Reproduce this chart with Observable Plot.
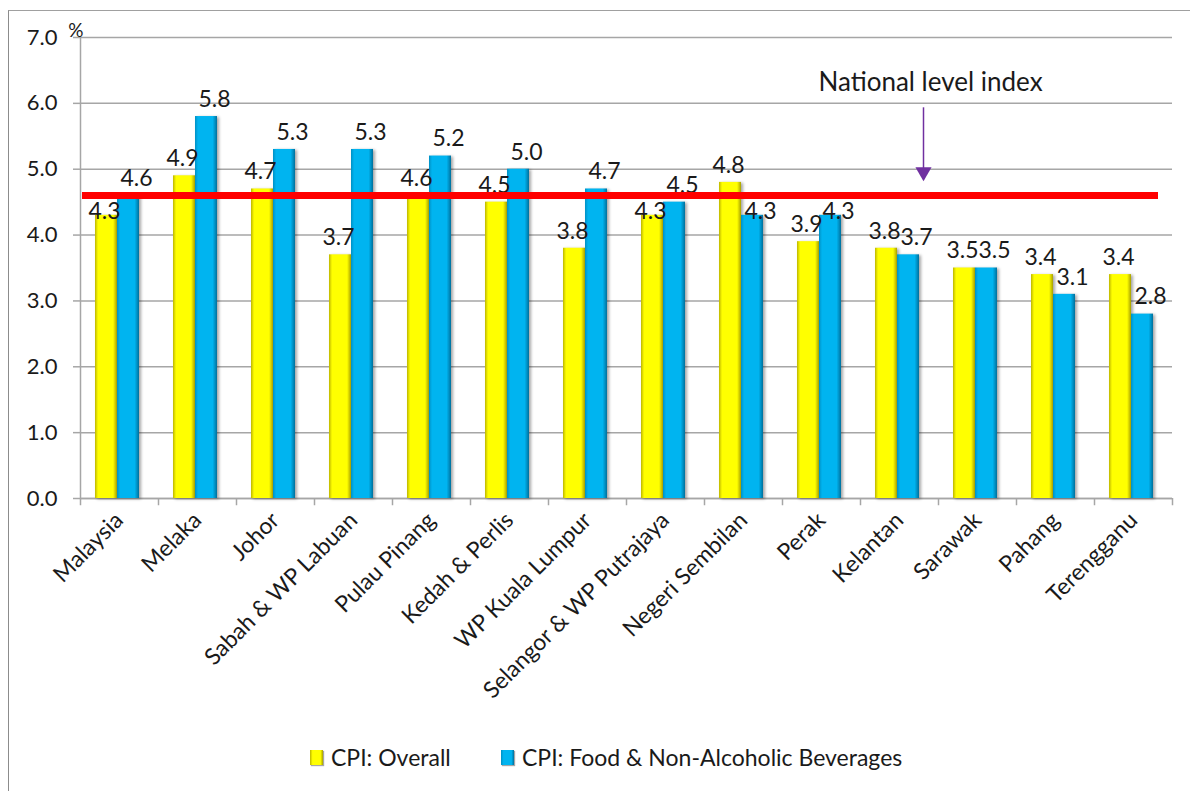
<!DOCTYPE html>
<html>
<head>
<meta charset="utf-8">
<script src="https://cdn.jsdelivr.net/npm/d3@7"></script>
<script src="https://cdn.jsdelivr.net/npm/@observablehq/plot@0.6"></script>
<style>
  body { margin: 0; background: #fff; font-family: Lato, "Noto Sans", sans-serif; }
  #frame { position: absolute; left: 8px; top: 10px; width: 1200px; height: 800px;
           border-left: 1.5px solid #8c8c8c; border-top: 1.5px solid #a0a0a0; }
  #chart { position: absolute; left: 0; top: 0; }
  #legend { position: absolute; top: 741px; left: 0; width: 1190px; height: 32px;
            font-size: 23px; color: #1a1a1a; }
  .item { position: absolute; top: 0; display: flex; align-items: center; white-space: nowrap; height: 32px; }
  .sw { width: 13px; height: 15px; margin-right: 8px; box-shadow: 1px 1px 1px rgba(0,0,0,0.35); }
</style>
</head>
<body>
<div id="frame"></div>
<div id="chart"></div>
<div id="legend"></div>
<script>
const regions = ["Malaysia", "Melaka", "Johor", "Sabah & WP Labuan", "Pulau Pinang",
  "Kedah & Perlis", "WP Kuala Lumpur", "Selangor & WP Putrajaya", "Negeri Sembilan",
  "Perak", "Kelantan", "Sarawak", "Pahang", "Terengganu"];
const overall = [4.3, 4.9, 4.7, 3.7, 4.6, 4.5, 3.8, 4.3, 4.8, 3.9, 3.8, 3.5, 3.4, 3.4];
const food    = [4.6, 5.8, 5.3, 5.3, 5.2, 5.0, 4.7, 4.5, 4.3, 4.3, 3.7, 3.5, 3.1, 2.8];
const yTicks = [0, 1, 2, 3, 4, 5, 6, 7];
const seriesNames = ["CPI: Overall", "CPI: Food & Non-Alcoholic Beverages"];
const nationalLevel = 4.6;
const annotation = { label: "National level index", region: "Kelantan", labelY: 6.32, arrowTop: 5.94, arrowHead: 4.96 };
const unitLabel = "%";

const data = regions.map((r, i) => ({ region: r, overall: overall[i], food: food[i] }));

const W = 1190, H = 740, mL = 80, mR = 18, mT = 37, mB = 242;
const bw = (W - mL - mR) / regions.length;
const grid = "#a6a6a6";
const fmt = d3.format(".1f");
// labels that would sit right under the national line are nudged down (as in the original)
const underLine = v => v <= nationalLevel - 0.25 && v >= nationalLevel - 0.35;

function labels(key, dx) {
  return [
    Plot.text(data.filter(d => !underLine(d[key])), { x: "region", y: key, text: d => fmt(d[key]), dx, dy: -17, fontSize: 23 }),
    Plot.text(data.filter(d => underLine(d[key])), { x: "region", y: key, text: d => fmt(d[key]), dx, dy: -4, fontSize: 23 })
  ];
}

const chart = Plot.plot({
  width: W, height: H,
  marginLeft: mL, marginRight: mR, marginTop: mT, marginBottom: mB,
  style: { fontFamily: "Lato, 'Noto Sans', sans-serif", color: "#1a1a1a", background: "transparent", overflow: "visible" },
  x: { type: "band", domain: regions, padding: 0, axis: null },
  y: { domain: [0, 7], axis: null },
  marks: [
    Plot.gridY(yTicks, { stroke: grid, strokeOpacity: 1, strokeWidth: 1.5 }),
    Plot.axisY(yTicks, { tickSize: 7, tickPadding: 16, tickFormat: fmt, fontSize: 22, stroke: grid, strokeWidth: 1.5, label: null }),
    Plot.frame({ anchor: "left", stroke: grid, strokeWidth: 1.5 }),
    Plot.ruleY([0], { stroke: grid, strokeWidth: 1.5 }),
    Plot.ruleX(regions, { x: d => d, dx: -bw / 2, y1: 0, y2: -0.11, stroke: grid, strokeWidth: 1.5 }),
    Plot.ruleX([regions[regions.length - 1]], { x: d => d, dx: bw / 2, y1: 0, y2: -0.11, stroke: grid, strokeWidth: 1.5 }),
    Plot.axisX({ tickSize: 0, tickRotate: -45, tickPadding: 18, fontSize: 23, label: null }),
    Plot.barY(data, { x: "region", y: "overall", fill: "url(#gy)", insetLeft: 15, insetRight: 41 }),
    Plot.barY(data, { x: "region", y: "food", fill: "url(#gb)", insetLeft: 37, insetRight: 19 }),
    ...labels("overall", -15),
    ...labels("food", 17),
    Plot.ruleY([nationalLevel], { stroke: "#ff0000", strokeWidth: 7, insetLeft: 2, insetRight: 14 }),
    Plot.link([annotation], { x1: "region", x2: "region", y1: "arrowTop", y2: "arrowHead", dx: 24, stroke: "#7030a0", strokeWidth: 1.5 }),
    Plot.dot([annotation], { x: "region", y: "arrowHead", dx: 24, symbol: "triangle", r: 6, fill: "#7030a0", rotate: 180 }),
    Plot.text([annotation], { x: "region", y: "labelY", text: "label", dx: 31, fontSize: 26 }),
    Plot.text([unitLabel], { frameAnchor: "top-left", text: d => d, dx: 3, dy: -14, fontSize: 19, textAnchor: "end" })
  ]
});

const ns = "http://www.w3.org/2000/svg";
const defs = document.createElementNS(ns, "defs");
defs.innerHTML = `
<linearGradient id="gy" x1="0" x2="1" y1="0" y2="0">
  <stop offset="0" stop-color="#bdb600"/><stop offset="0.14" stop-color="#ffff00"/>
  <stop offset="0.82" stop-color="#ffff00"/><stop offset="1" stop-color="#a8a000"/>
</linearGradient>
<linearGradient id="gb" x1="0" x2="1" y1="0" y2="0">
  <stop offset="0" stop-color="#0090c4"/><stop offset="0.14" stop-color="#00b4f0"/>
  <stop offset="0.80" stop-color="#00b4f0"/><stop offset="1" stop-color="#00709c"/>
</linearGradient>`;
chart.prepend(defs);
chart.querySelectorAll('g[aria-label="bar"]').forEach(g => g.style.filter = "drop-shadow(2px 1px 1.5px rgba(0,0,0,0.35))");
document.getElementById("chart").appendChild(chart);

const legend = document.getElementById("legend");
const swatches = ["linear-gradient(90deg,#bdb600,#ffff00 20%,#ffff00 80%,#a8a000)",
                  "linear-gradient(90deg,#0090c4,#00b4f0 20%,#00b4f0 80%,#00709c)"];
const lefts = [310, 501];
seriesNames.forEach((name, i) => {
  const it = document.createElement("div");
  it.className = "item";
  it.style.left = lefts[i] + "px";
  it.innerHTML = `<span class="sw" style="background:${swatches[i]}"></span><span>${name}</span>`;
  legend.appendChild(it);
});
</script>
</body>
</html>
